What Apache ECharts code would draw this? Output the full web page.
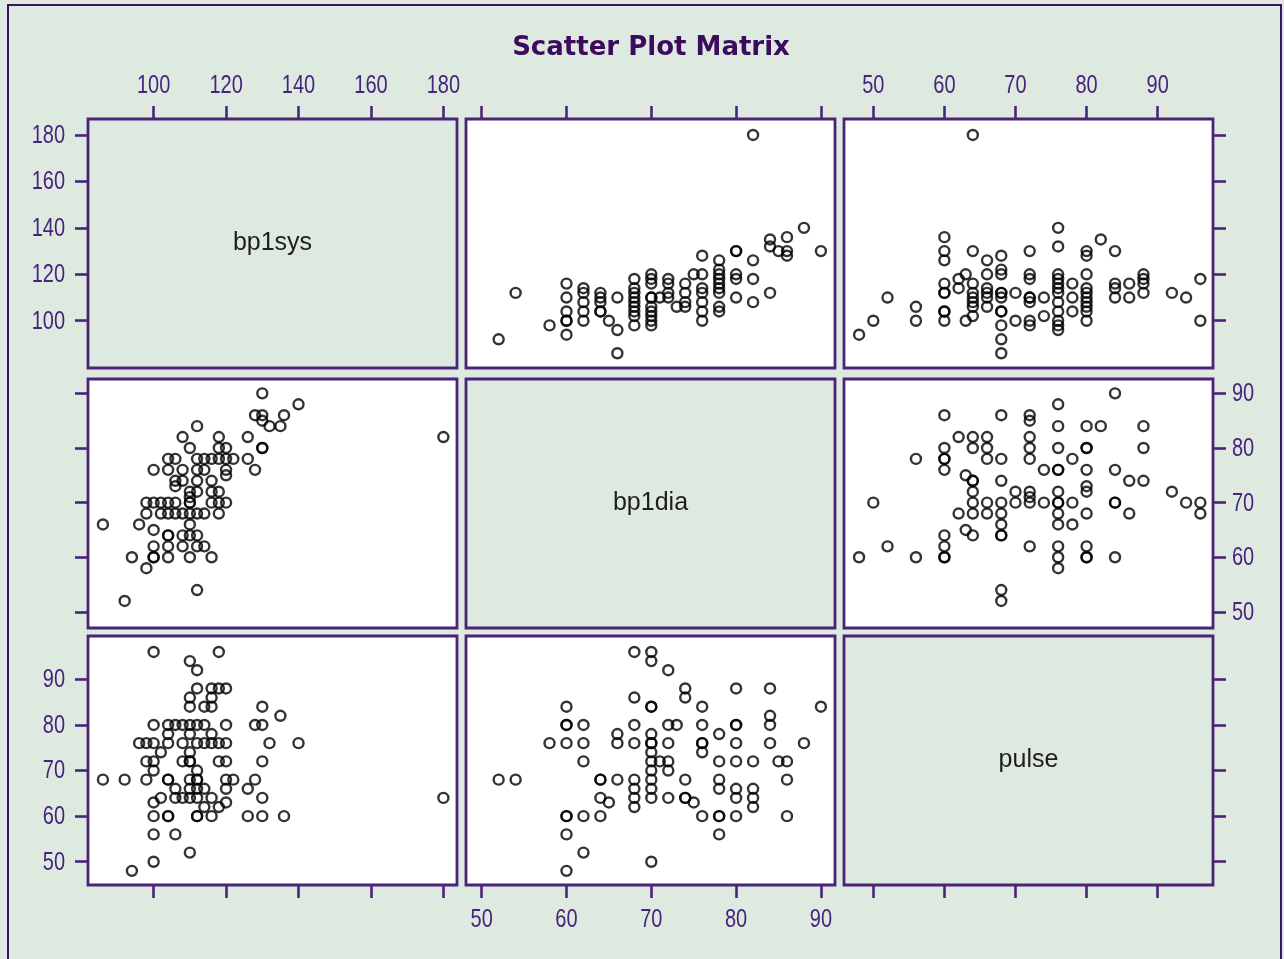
<!DOCTYPE html>
<html>
<head>
<meta charset="utf-8">
<script src="https://cdn.jsdelivr.net/npm/echarts@6/dist/echarts.min.js"></script>
<style>
  html, body { margin: 0; padding: 0; background: #dee9e0; }
  #chart { width: 1284px; height: 959px; }
</style>
</head>
<body>
<div id="chart"></div>
<script>
// Variables of the matrix, in row / column order
const variables = ['bp1sys', 'bp1dia', 'pulse'];

// Tick labels for each variable
const sysTicks = [100, 120, 140, 160, 180];
const diaTicks = [50, 60, 70, 80, 90];
const pulseTicks = [50, 60, 70, 80, 90];

// Paired observations: [bp1dia, bp1sys]
const diaSys = [
  [52, 92], [54, 112], [58, 98],
  [60, 116], [60, 110], [60, 104], [60, 100], [60, 100], [60, 94],
  [62, 114], [62, 112], [62, 108], [62, 104], [62, 100],
  [64, 112], [64, 110], [64, 108], [64, 104], [64, 104],
  [65, 100],
  [66, 110], [66, 96], [66, 86],
  [68, 118], [68, 114], [68, 112], [68, 110], [68, 108], [68, 106], [68, 104], [68, 102], [68, 98],
  [70, 120], [70, 118], [70, 116], [70, 110], [70, 110], [70, 106], [70, 104], [70, 102], [70, 100], [70, 98],
  [71, 110], [72, 118], [72, 116], [72, 112], [72, 110],
  [73, 106],
  [74, 116], [74, 112], [74, 108], [74, 106],
  [75, 120],
  [76, 128], [76, 120], [76, 114], [76, 112], [76, 108], [76, 104], [76, 100],
  [78, 126], [78, 122], [78, 120], [78, 118], [78, 116], [78, 114], [78, 112], [78, 106], [78, 104],
  [80, 130], [80, 130], [80, 120], [80, 118], [80, 110],
  [82, 180], [82, 126], [82, 118], [82, 108],
  [84, 135], [84, 132], [84, 112],
  [85, 130],
  [86, 136], [86, 130], [86, 128],
  [88, 140], [90, 130]
];

// Paired observations: [pulse, bp1sys]
const pulseSys = [
  [48, 94], [50, 100], [52, 110], [56, 106], [56, 100],
  [60, 136], [60, 130], [60, 126], [60, 116], [60, 112], [60, 112], [60, 104], [60, 104], [60, 100],
  [62, 118], [62, 114],
  [63, 120], [63, 100],
  [64, 180], [64, 130], [64, 116], [64, 112], [64, 110], [64, 108], [64, 106], [64, 102],
  [66, 126], [66, 120], [66, 114], [66, 112], [66, 110], [66, 106],
  [68, 128], [68, 122], [68, 120], [68, 112], [68, 112], [68, 110], [68, 104], [68, 104], [68, 98], [68, 92], [68, 86],
  [70, 112], [70, 100],
  [72, 130], [72, 120], [72, 118], [72, 110], [72, 110], [72, 108], [72, 100], [72, 98],
  [74, 110], [74, 102],
  [76, 140], [76, 132], [76, 120], [76, 118], [76, 116], [76, 114], [76, 112], [76, 108], [76, 104], [76, 100], [76, 98], [76, 96],
  [78, 116], [78, 110], [78, 104],
  [80, 130], [80, 128], [80, 120], [80, 114], [80, 112], [80, 110], [80, 108], [80, 106], [80, 104], [80, 100],
  [82, 135],
  [84, 130], [84, 116], [84, 114], [84, 110],
  [86, 116], [86, 110],
  [88, 120], [88, 118], [88, 116], [88, 112],
  [92, 112], [94, 110], [96, 118], [96, 100]
];

// Paired observations: [pulse, bp1dia]
const pulseDia = [
  [48, 60], [50, 70], [52, 62], [56, 78], [56, 60],
  [60, 86], [60, 80], [60, 78], [60, 78], [60, 76], [60, 64], [60, 62], [60, 60], [60, 60],
  [62, 82], [62, 68],
  [63, 75], [63, 65],
  [64, 82], [64, 80], [64, 74], [64, 74], [64, 72], [64, 70], [64, 68], [64, 64],
  [66, 82], [66, 80], [66, 78], [66, 70], [66, 68],
  [68, 86], [68, 78], [68, 74], [68, 70], [68, 68], [68, 66], [68, 64], [68, 64], [68, 54], [68, 52],
  [70, 72], [70, 70],
  [72, 86], [72, 85], [72, 82], [72, 80], [72, 78], [72, 72], [72, 71], [72, 70], [72, 62],
  [74, 76], [74, 70],
  [76, 88], [76, 84], [76, 80], [76, 76], [76, 76], [76, 72], [76, 70], [76, 70], [76, 68], [76, 66], [76, 62], [76, 60], [76, 58],
  [78, 78], [78, 70], [78, 66],
  [80, 84], [80, 80], [80, 80], [80, 76], [80, 73], [80, 72], [80, 68], [80, 62], [80, 60], [80, 60],
  [82, 84],
  [84, 90], [84, 76], [84, 70], [84, 70], [84, 60],
  [86, 74], [86, 68],
  [88, 84], [88, 80], [88, 74],
  [92, 72], [94, 70], [96, 70], [96, 68]
];

// ---- styling / layout ----
const BG = '#dee9e0';
const FRAME = '#4b2478';
const LABEL = '#48237c';
const TICK_FONT = "'Liberation Sans', Arial, sans-serif";
const TICK_SIZE = 25;
const TICK_SQUEEZE = 0.8;   // narrow tick-label face

const colLeft = [88, 466, 844];
const rowTop = [119, 379, 636];
const cellW = 369;
const cellH = 249;

// Axis extents per variable: horizontal (by column) and vertical (by row)
const xRange = { bp1sys: [81.88, 183.76], bp1dia: [48.15, 91.66], pulse: [45.88, 97.78] };
const yRange = { bp1sys: [79.65, 186.88], bp1dia: [47.05, 92.63], pulse: [44.9, 99.5] };
const ticksOf = { bp1sys: sysTicks, bp1dia: diaTicks, pulse: pulseTicks };

// Look up the pairs for an (x variable, y variable) cell
function pairsFor(xv, yv) {
  const table = {
    'bp1dia|bp1sys': diaSys,
    'pulse|bp1sys': pulseSys,
    'pulse|bp1dia': pulseDia
  };
  if (table[xv + '|' + yv]) return table[xv + '|' + yv];
  return table[yv + '|' + xv].map(p => [p[1], p[0]]);
}

const grids = [], xAxes = [], yAxes = [], series = [], graphics = [];
const labelJobs = [];   // which axes carry tick labels, and on which side

for (let r = 0; r < 3; r++) {
  for (let c = 0; c < 3; c++) {
    const i = r * 3 + c;
    const xv = variables[c], yv = variables[r];
    const diag = r === c;

    grids.push({
      left: colLeft[c], top: rowTop[r], width: cellW, height: cellH,
      show: true,
      backgroundColor: diag ? BG : '#ffffff',
      borderColor: FRAME, borderWidth: 2.8
    });

    const tick = (vals) => ({
      show: true, inside: false, length: 13,
      customValues: vals,
      lineStyle: { color: FRAME, width: 2.6 }
    });

    xAxes.push({
      gridIndex: i, type: 'value',
      min: xRange[xv][0], max: xRange[xv][1],
      position: r === 0 ? 'top' : 'bottom',
      show: r !== 1,
      axisLine: { show: false, onZero: false },
      axisTick: tick(ticksOf[xv]),
      axisLabel: { show: false },
      splitLine: { show: false }
    });
    if ((r === 0 && c % 2 === 0) || (r === 2 && c % 2 === 1)) {
      labelJobs.push({ kind: 'x', index: i, side: r === 0 ? 'top' : 'bottom', ticks: ticksOf[xv] });
    }

    yAxes.push({
      gridIndex: i, type: 'value',
      min: yRange[yv][0], max: yRange[yv][1],
      position: c === 0 ? 'left' : 'right',
      show: c !== 1,
      axisLine: { show: false, onZero: false },
      axisTick: tick(ticksOf[yv]),
      axisLabel: { show: false },
      splitLine: { show: false }
    });
    if ((c === 0 && r % 2 === 0) || (c === 2 && r % 2 === 1)) {
      labelJobs.push({ kind: 'y', index: i, side: c === 0 ? 'left' : 'right', ticks: ticksOf[yv] });
    }

    if (diag) {
      graphics.push({
        type: 'text',
        x: colLeft[c] + cellW / 2,
        y: rowTop[r] + cellH / 2,
        style: {
          text: xv,
          fill: '#1e1e1e',
          fontSize: 25,
          fontFamily: "'Liberation Sans', Arial, sans-serif",
          align: 'center',
          verticalAlign: 'middle'
        }
      });
    } else {
      series.push({
        type: 'scatter',
        xAxisIndex: i, yAxisIndex: i,
        data: pairsFor(xv, yv),
        symbol: 'circle',
        symbolSize: 10,
        itemStyle: { color: 'rgba(0,0,0,0)', borderColor: '#000000', borderWidth: 2.4 },
        silent: true
      });
    }
  }
}

// Outer frame of the whole figure
graphics.push({
  type: 'rect',
  shape: { x: 8, y: 5, width: 1273, height: 1000 },
  style: { fill: 'none', stroke: '#3c1361', lineWidth: 2 },
  z: -1
});

const chart = echarts.init(document.getElementById('chart'), null, { renderer: 'canvas' });
chart.setOption({
  backgroundColor: BG,
  animation: false,
  title: {
    text: 'Scatter Plot Matrix',
    left: 646, top: 30, textAlign: 'center',
    textStyle: {
      color: '#3d0b5e', fontSize: 26, fontWeight: 'bold',
      fontFamily: "'DejaVu Sans', Verdana, sans-serif"
    }
  },
  grid: grids,
  xAxis: xAxes,
  yAxis: yAxes,
  series: series
});

// Tick labels, placed with the axes' own scales and drawn in a narrowed face
labelJobs.forEach(job => {
  job.ticks.forEach(v => {
    const p = chart.convertToPixel(job.kind === 'x' ? { xAxisIndex: job.index } : { yAxisIndex: job.index }, v);
    let x, y, align;
    if (job.side === 'top') { x = p; y = rowTop[0] - 33; align = 'center'; }
    else if (job.side === 'bottom') { x = p; y = rowTop[2] + cellH + 35; align = 'center'; }
    else if (job.side === 'left') { x = colLeft[0] - 23; y = p + 1; align = 'right'; }
    else { x = colLeft[2] + cellW + 19; y = p + 1; align = 'left'; }
    graphics.push({
      type: 'text', x: x, y: y, scaleX: TICK_SQUEEZE,
      style: {
        text: String(v), fill: LABEL,
        fontSize: TICK_SIZE, fontFamily: TICK_FONT,
        align: align, verticalAlign: 'middle'
      }
    });
  });
});

chart.setOption({ graphic: graphics });
</script>
</body>
</html>
